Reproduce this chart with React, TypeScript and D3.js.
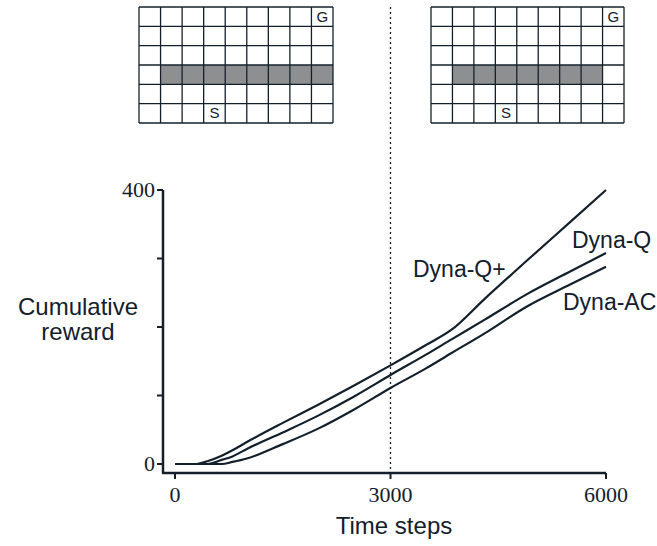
import React from "react";
import * as d3 from "d3";

const timeSteps = [0, 300, 450, 650, 800, 1000, 1500, 2000, 2500, 3000, 3500, 3850, 4300, 4900, 5500, 6000];
const dynaQPlus = [0, 0, 4, 12, 20, 32, 60, 87, 115, 144, 174, 196, 240, 297, 353, 400];
const dynaQ = [0, 0, 0, 6, 11, 22, 46, 71, 99, 130, 160, 182, 210, 248, 281, 308];
const dynaAC = [0, 0, 0, 0, 3, 8, 29, 52, 80, 111, 140, 162, 190, 230, 262, 288];
const seriesNames = ["Dyna-Q+", "Dyna-Q", "Dyna-AC"];
const xTicks = [0, 3000, 6000];
const yTickLabels = [0, 400];
const yTicks = [0, 100, 200, 300, 400];
const changeStep = 3000;

const gridCols = d3.range(9);
const gridRows = d3.range(6);
const wallRow = 3;
const wallColsBefore = [1, 2, 3, 4, 5, 6, 7, 8];
const wallColsAfter = [1, 2, 3, 4, 5, 6, 7];
const goalCell = [8, 0];
const startCell = [3, 5];

const INK = "#13202c";

function Maze({ x0, x1, y0, y1, walls }: { x0: number; x1: number; y0: number; y1: number; walls: number[] }) {
  const xs = d3.scaleBand<number>().domain(gridCols).range([x0, x1]);
  const ys = d3.scaleBand<number>().domain(gridRows).range([y0, y1]);
  const bw = xs.bandwidth();
  const bh = ys.bandwidth();
  return (
    <g>
      {walls.map((c) => (
        <rect key={c} x={xs(c)} y={ys(wallRow)} width={bw} height={bh} fill="#8e8f91" />
      ))}
      {gridCols.concat([gridCols.length]).map((c) => {
        const x = c < gridCols.length ? (xs(c) as number) : x1;
        return <line key={"v" + c} x1={x} x2={x} y1={y0} y2={y1} stroke={INK} strokeWidth={1.3} />;
      })}
      {gridRows.concat([gridRows.length]).map((r) => {
        const y = r < gridRows.length ? (ys(r) as number) : y1;
        return <line key={"h" + r} x1={x0} x2={x1} y1={y} y2={y} stroke={INK} strokeWidth={1.3} />;
      })}
      <text x={(xs(goalCell[0]) as number) + bw / 2} y={(ys(goalCell[1]) as number) + bh / 2 + 5} textAnchor="middle" fontFamily="Liberation Sans, Arial, sans-serif" fontSize={15} fill={INK}>G</text>
      <text x={(xs(startCell[0]) as number) + bw / 2} y={(ys(startCell[1]) as number) + bh / 2 + 5} textAnchor="middle" fontFamily="Liberation Sans, Arial, sans-serif" fontSize={15} fill={INK}>S</text>
    </g>
  );
}

export default function App() {
  const x = d3.scaleLinear().domain([0, 6000]).range([175, 606]);
  const y = d3.scaleLinear().domain([0, 400]).range([464, 190]);
  const line = d3
    .line<number>()
    .x((_, i) => x(timeSteps[i]))
    .y((d) => y(d))
    .curve(d3.curveMonotoneX);
  const series = [dynaQPlus, dynaQ, dynaAC];
  const axisY = 473;
  const axisX = 163;
  const sans = "Liberation Sans, Arial, sans-serif";
  const serif = "Liberation Serif, Times New Roman, serif";
  return (
    <svg width={657} height={546} style={{ position: "absolute", left: 0, top: 0, background: "#fff" }}>
      <Maze x0={139} x1={333} y0={7} y1={123} walls={wallColsBefore} />
      <Maze x0={431} x1={624} y0={7} y1={123} walls={wallColsAfter} />
      <line x1={x(changeStep)} x2={x(changeStep)} y1={7} y2={axisY} stroke={INK} strokeWidth={1.3} strokeDasharray="2,3" />
      {series.map((s, i) => (
        <path key={seriesNames[i]} d={line(s) || ""} fill="none" stroke={INK} strokeWidth={2.2} />
      ))}
      <line x1={axisX} x2={axisX} y1={y(400)} y2={axisY} stroke={INK} strokeWidth={2.5} />
      <line x1={axisX - 1} x2={x(6000)} y1={axisY} y2={axisY} stroke={INK} strokeWidth={2.5} />
      {yTicks.map((t) => (
        <line key={t} x1={axisX - 6} x2={axisX} y1={y(t)} y2={y(t)} stroke={INK} strokeWidth={2} />
      ))}
      {xTicks.map((t) => (
        <line key={t} x1={x(t)} x2={x(t)} y1={axisY} y2={axisY + 6} stroke={INK} strokeWidth={2} />
      ))}
      {yTickLabels.map((t) => (
        <text key={t} x={155} y={y(t) + 7} textAnchor="end" fontFamily={serif} fontSize={22} fill={INK}>{t}</text>
      ))}
      {xTicks.map((t) => (
        <text key={t} x={x(t)} y={502} textAnchor="middle" fontFamily={serif} fontSize={22} fill={INK}>{t}</text>
      ))}
      <text x={394} y={534} textAnchor="middle" fontFamily={sans} fontSize={24} fill={INK}>Time steps</text>
      <text x={78} y={315} textAnchor="middle" fontFamily={sans} fontSize={24} fill={INK}>Cumulative</text>
      <text x={78} y={340} textAnchor="middle" fontFamily={sans} fontSize={24} fill={INK}>reward</text>
      <text x={413} y={277} fontFamily={sans} fontSize={23} fill={INK}>{seriesNames[0]}</text>
      <text x={572} y={248} fontFamily={sans} fontSize={23} fill={INK}>{seriesNames[1]}</text>
      <text x={563} y={310} fontFamily={sans} fontSize={23} fill={INK}>{seriesNames[2]}</text>
    </svg>
  );
}
